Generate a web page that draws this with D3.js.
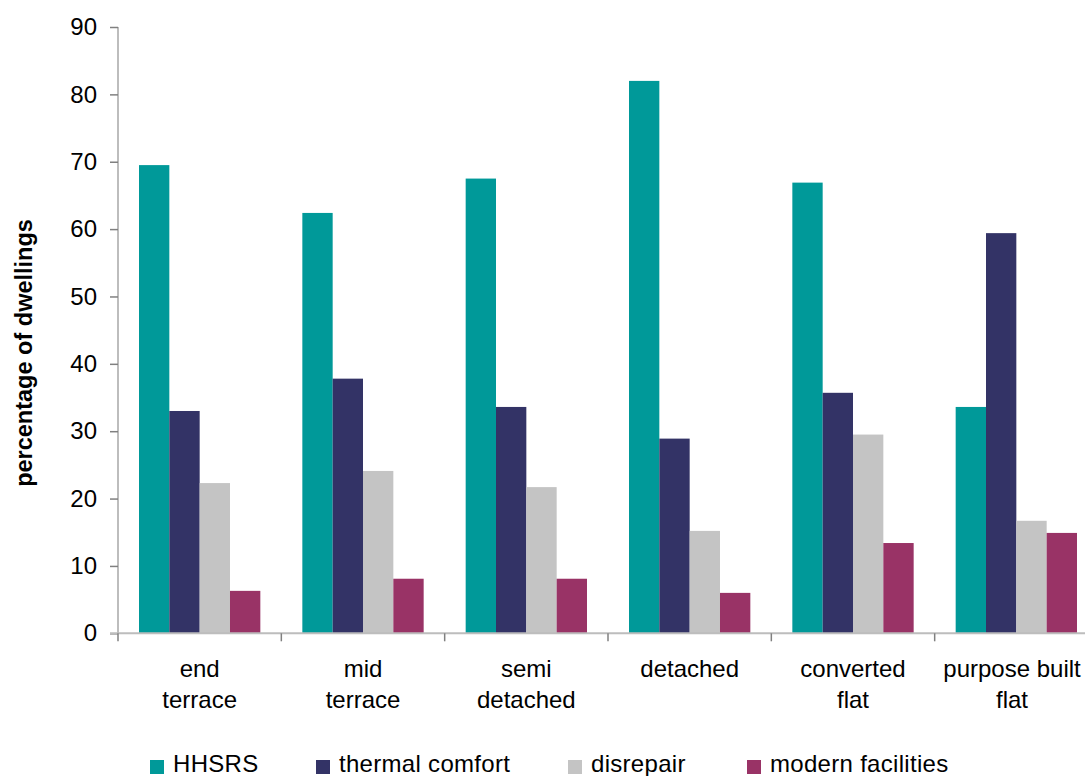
<!DOCTYPE html>
<html>
<head>
<meta charset="utf-8">
<script src="https://cdn.jsdelivr.net/npm/d3@7"></script>
<style>
  html, body { margin: 0; padding: 0; background: #fff; }
  svg { display: block; font-family: "Liberation Sans", Arial, sans-serif; }
</style>
</head>
<body>
<svg id="chart" width="1085" height="776"></svg>
<script>
const categories = ["end terrace", "mid terrace", "semi detached", "detached", "converted flat", "purpose built flat"];
const categoryLines = [["end", "terrace"], ["mid", "terrace"], ["semi", "detached"], ["detached"], ["converted", "flat"], ["purpose built", "flat"]];
const seriesNames = ["HHSRS", "thermal comfort", "disrepair", "modern facilities"];
const seriesColors = ["#009999", "#333366", "#C4C4C4", "#993366"];
const hhsrs = [69.5, 62.4, 67.5, 82.0, 66.9, 33.6];
const thermalComfort = [33.0, 37.8, 33.6, 28.9, 35.7, 59.4];
const disrepair = [22.3, 24.1, 21.7, 15.2, 29.5, 16.7];
const modernFacilities = [6.3, 8.1, 8.1, 6.0, 13.4, 14.9];
const yTicks = [0, 10, 20, 30, 40, 50, 60, 70, 80, 90];
const yTitle = "percentage of dwellings";

(function () {
const seriesValues = [hhsrs, thermalComfort, disrepair, modernFacilities];

const svg = d3.select("#chart");
const pLeft = 118, pRight = 1098, pTop = 27, pBottom = 633.3;

const x0 = d3.scaleBand().domain(categories).range([pLeft, pRight]).paddingInner(0).paddingOuter(0);
const bw = x0.bandwidth();
const x1 = d3.scaleBand().domain(seriesNames).range([bw * 0.1286, bw * 0.8714]).padding(0);
const y = d3.scaleLinear().domain([0, 90]).range([pBottom, pTop]);

// bars
const groups = svg.append("g").selectAll("g")
  .data(categories)
  .join("g")
  .attr("transform", d => `translate(${x0(d)},0)`);

groups.selectAll("rect")
  .data((c, i) => seriesNames.map((s, j) => ({ s, j, v: seriesValues[j][i] })))
  .join("rect")
  .attr("x", d => x1(d.s))
  .attr("width", x1.bandwidth())
  .attr("y", d => y(d.v))
  .attr("height", d => y(0) - y(d.v))
  .attr("fill", d => seriesColors[d.j]);

// y axis
const yAxis = svg.append("g")
  .attr("transform", `translate(${pLeft},0)`)
  .call(d3.axisLeft(y).tickValues(yTicks).tickSize(8).tickPadding(13).tickFormat(d3.format("d")));
yAxis.select(".domain").attr("stroke", "#BDBDBD").attr("stroke-width", 2).attr("d", `M0,${pTop}V${pBottom}`);
yAxis.selectAll(".tick line").attr("stroke", "#808080").attr("stroke-width", 1.5);
yAxis.selectAll(".tick text").attr("fill", "#000").style("font-size", "24px")
  .style("font-family", '"Liberation Sans", Arial, sans-serif');

// x axis
const xAxis = svg.append("g")
  .attr("transform", `translate(0,${pBottom})`)
  .call(d3.axisBottom(x0).tickSize(0).tickFormat(""));
xAxis.select(".domain").attr("stroke", "#BDBDBD").attr("stroke-width", 2).attr("d", `M${pLeft - 8},0H${pRight}`);
xAxis.selectAll(".tick").remove();

// category tick marks at band boundaries
const boundaries = categories.map(c => x0(c)).concat([pRight]);
xAxis.selectAll("line.sep")
  .data(boundaries)
  .join("line")
  .attr("class", "sep")
  .attr("x1", d => d).attr("x2", d => d)
  .attr("y1", 0).attr("y2", 8)
  .attr("stroke", "#808080").attr("stroke-width", 1.5);

// category labels
const labels = svg.append("g");
categories.forEach((c, i) => {
  const cx = Math.min(x0(c) + bw / 2, 1012);
  const t = labels.append("text")
    .attr("x", cx)
    .attr("y", 677)
    .attr("text-anchor", "middle")
    .attr("fill", "#000")
    .style("font-size", "24px");
  categoryLines[i].forEach((line, k) => {
    t.append("tspan")
      .attr("x", cx)
      .attr("dy", k === 0 ? 0 : 31)
      .text(line);
  });
});

// y title
svg.append("text")
  .attr("transform", `translate(32,353) rotate(-90)`)
  .attr("text-anchor", "middle")
  .attr("fill", "#000")
  .style("font-size", "23.5px")
  .style("font-weight", "bold")
  .text(yTitle);

// legend
const legendX = [150, 316, 568, 747];
const legend = svg.append("g");
seriesNames.forEach((s, j) => {
  legend.append("rect")
    .attr("x", legendX[j]).attr("y", 760)
    .attr("width", 14).attr("height", 14)
    .attr("fill", seriesColors[j]);
  legend.append("text")
    .attr("x", legendX[j] + 23).attr("y", 772)
    .attr("fill", "#000")
    .style("font-size", "24px")
    .style("letter-spacing", "0.3px")
    .text(s);
});
})();
</script>
</body>
</html>
